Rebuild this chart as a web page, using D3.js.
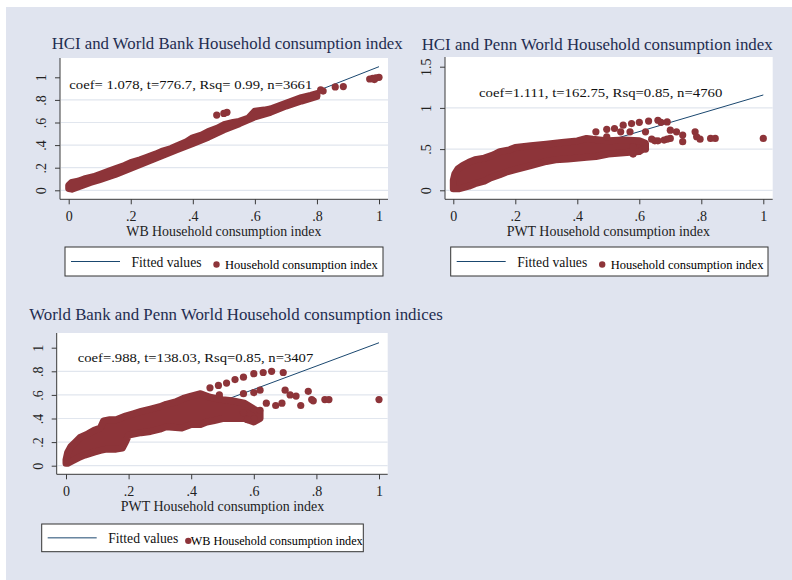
<!DOCTYPE html>
<html>
<head>
<meta charset="utf-8">
<script src="https://cdn.jsdelivr.net/npm/d3@7"></script>
<style>
  body { margin: 0; background: #fff; }
  text { font-family: "Liberation Serif", "Times New Roman", serif; }
</style>
</head>
<body>
<svg id="chart" width="792" height="580"></svg>
<script>
// ---- values ----
var titles = [
    "HCI and World Bank Household consumption index",
    "HCI and Penn World Household consumption index",
    "World Bank and Penn World Household consumption indices"
];
var xTitles = ["WB Household consumption index", "PWT Household consumption index", "PWT Household consumption index"];
var notes = [
    "coef= 1.078, t=776.7, Rsq= 0.99, n=3661",
    "coef=1.111, t=162.75, Rsq=0.85, n=4760",
    "coef=.988, t=138.03, Rsq=0.85, n=3407"
];
var scatterNames = ["Household consumption index", "Household consumption index", "WB Household consumption index"];

var xTicks = [0, 0.2, 0.4, 0.6, 0.8, 1];
var xTickLabels = ["0", ".2", ".4", ".6", ".8", "1"];
var yTicks1 = [0, 0.2, 0.4, 0.6, 0.8, 1];
var yTickLabels1 = ["0", ".2", ".4", ".6", ".8", "1"];
var yTicks2 = [0, 0.5, 1, 1.5];
var yTickLabels2 = ["0", ".5", "1", "1.5"];

// fitted line end points
var fit1 = [[0, 0.016], [1, 1.094]];
var fit2 = [[0, 0.046], [1, 1.157]];
var fit3 = [[0, 0.054], [1, 1.042]];

// dense part of each cloud (marker centres): upper edge left->right, lower edge right->left
var cloud1Upper = [[0, 0.045], [0.01, 0.07], [0.03, 0.08], [0.05, 0.1], [0.08, 0.12], [0.1, 0.14], [0.13, 0.17], [0.15, 0.19], [0.18, 0.22], [0.2, 0.245], [0.23, 0.27], [0.25, 0.29], [0.28, 0.32], [0.3, 0.345], [0.33, 0.37], [0.35, 0.395], [0.38, 0.43], [0.4, 0.465], [0.43, 0.49], [0.45, 0.52], [0.48, 0.55], [0.5, 0.58], [0.53, 0.6], [0.55, 0.61], [0.58, 0.64], [0.6, 0.7], [0.63, 0.71], [0.65, 0.72], [0.7, 0.77], [0.75, 0.82], [0.78, 0.84], [0.8, 0.855]];
var cloud1Lower = [[0.8, 0.83], [0.75, 0.79], [0.7, 0.745], [0.65, 0.69], [0.6, 0.65], [0.55, 0.59], [0.5, 0.535], [0.45, 0.47], [0.4, 0.415], [0.35, 0.36], [0.3, 0.305], [0.25, 0.25], [0.2, 0.195], [0.15, 0.14], [0.1, 0.095], [0.07, 0.07], [0.05, 0.05], [0.03, 0.03], [0.01, 0.01], [0, 0.015]];
var cloud2Upper = [[0, 0.12], [0.005, 0.2], [0.015, 0.26], [0.03, 0.3], [0.05, 0.34], [0.07, 0.37], [0.1, 0.39], [0.13, 0.43], [0.15, 0.47], [0.18, 0.49], [0.2, 0.52], [0.25, 0.54], [0.3, 0.56], [0.35, 0.58], [0.4, 0.6], [0.43, 0.63], [0.45, 0.62], [0.5, 0.6], [0.55, 0.61], [0.6, 0.6], [0.62, 0.57]];
var cloud2Lower = [[0.62, 0.52], [0.6, 0.47], [0.56, 0.46], [0.5, 0.44], [0.46, 0.41], [0.43, 0.4], [0.37, 0.38], [0.33, 0.37], [0.3, 0.35], [0.25, 0.3], [0.2, 0.25], [0.17, 0.22], [0.15, 0.19], [0.12, 0.15], [0.1, 0.11], [0.07, 0.08], [0.05, 0.05], [0.02, 0.02], [0, 0.02]];
var cloud3Upper = [[0, 0.05], [0.005, 0.11], [0.015, 0.16], [0.03, 0.2], [0.045, 0.24], [0.07, 0.27], [0.09, 0.3], [0.11, 0.32], [0.12, 0.38], [0.14, 0.39], [0.16, 0.39], [0.19, 0.42], [0.215, 0.44], [0.24, 0.46], [0.27, 0.48], [0.3, 0.5], [0.32, 0.52], [0.35, 0.54], [0.375, 0.57], [0.4, 0.59], [0.43, 0.61], [0.46, 0.58], [0.5, 0.56], [0.53, 0.55], [0.57, 0.53], [0.6, 0.48], [0.62, 0.45]];
var cloud3Lower = [[0.62, 0.4], [0.6, 0.37], [0.57, 0.4], [0.53, 0.4], [0.5, 0.4], [0.47, 0.38], [0.45, 0.37], [0.43, 0.35], [0.4, 0.35], [0.37, 0.32], [0.32, 0.33], [0.3, 0.31], [0.27, 0.29], [0.24, 0.28], [0.2, 0.26], [0.19, 0.2], [0.18, 0.15], [0.16, 0.14], [0.13, 0.14], [0.11, 0.13], [0.09, 0.115], [0.06, 0.09], [0.045, 0.075], [0.02, 0.04], [0.005, 0.02], [0, 0.02]];

// loose markers outside the dense part
var points1 = [[0.477, 0.666], [0.5, 0.68], [0.51, 0.69], [0.82, 0.878], [0.812, 0.888], [0.859, 0.915], [0.885, 0.918], [0.97, 0.985], [0.98, 0.99], [0.99, 0.995], [1.0, 1.0], [0.985, 0.98]];
var points2 = [[0.46, 0.71], [0.495, 0.74], [0.52, 0.75], [0.548, 0.79], [0.575, 0.81], [0.6, 0.825], [0.63, 0.84], [0.66, 0.85], [0.67, 0.825], [0.69, 0.83], [0.495, 0.65], [0.54, 0.71], [0.57, 0.71], [0.62, 0.71], [0.7, 0.73], [0.72, 0.71], [0.7, 0.63], [0.74, 0.67], [0.74, 0.59], [0.78, 0.71], [0.785, 0.65], [0.796, 0.62], [0.83, 0.63], [0.845, 0.63], [1.0, 0.63], [0.66, 0.6], [0.68, 0.61], [0.58, 0.53], [0.62, 0.5], [0.58, 0.44], [0.65, 0.6], [0.69, 0.62], [0.64, 0.62]];
var points3 = [[0.46, 0.66], [0.487, 0.68], [0.513, 0.7], [0.54, 0.73], [0.567, 0.75], [0.6, 0.78], [0.63, 0.79], [0.657, 0.8], [0.694, 0.79], [0.49, 0.6], [0.567, 0.61], [0.6, 0.62], [0.62, 0.64], [0.7, 0.64], [0.716, 0.6], [0.735, 0.59], [0.69, 0.53], [0.75, 0.51], [0.774, 0.63], [0.785, 0.56], [0.79, 0.55], [0.827, 0.56], [0.84, 0.56], [1.0, 0.56], [0.64, 0.53], [0.6, 0.4], [0.58, 0.39], [0.567, 0.45], [0.67, 0.51], [0.62, 0.47]];

// ---- layout ----
var navy = "#1a476f", maroon = "#8d3439", gridCol = "#e1e6ee", bg = "#e0e4ef";
var panels = [
    { plot: [60, 58, 388, 199.3], xr: [68.7, 379], ymax: 1, yr: [190.3, 77.3],
      yTicks: yTicks1, yLabels: yTickLabels1, fit: fit1, up: cloud1Upper, lo: cloud1Lower, pts: points1,
      title: [51.7, 49, 351], note: [69.3, 89.3, 243], xt: 195, legend: [65, 247, 318, 29, 152.7] },
    { plot: [445, 57, 772.7, 199.3], xr: [453.3, 763.3], ymax: 1.5, yr: [190.3, 66.7],
      yTicks: yTicks2, yLabels: yTickLabels2, fit: fit2, up: cloud2Upper, lo: cloud2Lower, pts: points2,
      title: [421.7, 50, 351], note: [479, 96.7, 243.3], xt: 203.3, legend: [450.7, 247, 317.3, 29, 152.7] },
    { plot: [56.7, 333, 387.7, 474.3], xr: [66, 379], ymax: 1, yr: [465.7, 347.7],
      yTicks: yTicks1, yLabels: yTickLabels1, fit: fit3, up: cloud3Upper, lo: cloud3Lower, pts: points3,
      title: [29.3, 320, 413.4], note: [77.7, 361.7, 235.6], xt: 203.6, legend: [41.7, 524, 321.6, 27.7, 172] }
];

var svg = d3.select("#chart");
svg.append("rect").attr("x", 0).attr("y", 0).attr("width", 792).attr("height", 580).attr("fill", "#fff");
svg.append("rect").attr("x", 6).attr("y", 7).attr("width", 786).attr("height", 573).attr("fill", bg);

panels.forEach(function(p, i) {
    var g = svg.append("g");
    var x = d3.scaleLinear().domain([0, 1]).range(p.xr);
    var y = d3.scaleLinear().domain([0, p.ymax]).range(p.yr);
    var left = p.plot[0], top = p.plot[1], right = p.plot[2], bottom = p.plot[3];
    var line = d3.line().x(function(d) { return x(d[0]); }).y(function(d) { return y(d[1]); });

    g.append("rect").attr("x", left).attr("y", top).attr("width", right - left).attr("height", bottom - top).attr("fill", "#fff");

    // grid lines (none at the top tick)
    g.selectAll(".grid").data(p.yTicks.slice(0, -1)).enter().append("line")
        .attr("x1", left + 1).attr("x2", right)
        .attr("y1", function(d) { return y(d); }).attr("y2", function(d) { return y(d); })
        .attr("stroke", gridCol).attr("stroke-width", 1.2);

    var clip = "clip" + i;
    g.append("clipPath").attr("id", clip).append("rect")
        .attr("x", left).attr("y", top).attr("width", right - left).attr("height", bottom - top);
    var inner = g.append("g").attr("clip-path", "url(#" + clip + ")");

    // fitted line under the markers
    inner.append("path").datum(p.fit).attr("d", line)
        .attr("stroke", navy).attr("stroke-width", 1).attr("fill", "none");

    // dense cloud
    inner.append("path").datum(p.up.concat(p.lo))
        .attr("d", line.curve(d3.curveLinearClosed))
        .attr("fill", maroon).attr("stroke", maroon).attr("stroke-width", 7).attr("stroke-linejoin", "round");

    inner.selectAll(".pt").data(p.pts).enter().append("circle")
        .attr("cx", function(d) { return x(d[0]); }).attr("cy", function(d) { return y(d[1]); })
        .attr("r", 3.6).attr("fill", maroon);

    // axes
    var xAxis = d3.axisBottom(x).tickValues(xTicks).tickSize(5).tickFormat(function(d, j) { return xTickLabels[j]; });
    var gx = g.append("g").attr("transform", "translate(0," + bottom + ")").call(xAxis);
    gx.select(".domain").attr("d", "M" + left + ",0H" + right).attr("stroke", "#3a3a3a");
    gx.selectAll(".tick line").attr("stroke", "#3a3a3a");
    gx.selectAll(".tick text").attr("dy", null).attr("y", 21.8)
        .attr("font-size", 14).attr("fill", "#222").style("font-family", "Liberation Serif");

    var yAxis = d3.axisLeft(y).tickValues(p.yTicks).tickSize(5).tickFormat(function(d, j) { return p.yLabels[j]; });
    var gy = g.append("g").attr("transform", "translate(" + left + ",0)").call(yAxis);
    gy.select(".domain").attr("d", "M0," + top + "V" + bottom).attr("stroke", "#3a3a3a");
    gy.selectAll(".tick line").attr("stroke", "#3a3a3a");
    gy.selectAll(".tick text").attr("x", null).attr("dy", null)
        .attr("transform", "translate(-14,0) rotate(-90)")
        .attr("text-anchor", "middle").attr("font-size", 14).attr("fill", "#222").style("font-family", "Liberation Serif");

    // texts
    g.append("text").attr("x", p.title[0]).attr("y", p.title[1]).attr("font-size", 16).attr("fill", "#1f2d50")
        .attr("textLength", p.title[2]).attr("lengthAdjust", "spacingAndGlyphs").text(titles[i]);
    g.append("text").attr("x", p.note[0]).attr("y", p.note[1]).attr("font-size", 13.5).attr("fill", "#111")
        .attr("textLength", p.note[2]).attr("lengthAdjust", "spacingAndGlyphs").text(notes[i]);
    g.append("text").attr("x", (p.xr[0] + p.xr[1]) / 2 - p.xt / 2).attr("y", bottom + 37)
        .attr("font-size", 14.5).attr("fill", "#222")
        .attr("textLength", p.xt).attr("lengthAdjust", "spacingAndGlyphs").text(xTitles[i]);

    // legend
    var L = p.legend, lx = L[0], ly = L[1];
    var lg = g.append("g");
    lg.append("rect").attr("x", lx).attr("y", ly).attr("width", L[2]).attr("height", L[3])
        .attr("fill", "#fff").attr("stroke", "#333").attr("stroke-width", 1);
    var midY = ly + L[3] / 2;
    lg.append("line").attr("x1", lx + 6).attr("x2", lx + 55).attr("y1", midY).attr("y2", midY)
        .attr("stroke", navy).attr("stroke-width", 1);
    lg.append("text").attr("x", lx + 66.5).attr("y", midY + 5).attr("font-size", 14).attr("fill", "#111")
        .attr("textLength", 70).attr("lengthAdjust", "spacingAndGlyphs").text("Fitted values");
    var mx = i === 2 ? lx + 146.6 : lx + 151.5;
    lg.append("circle").attr("cx", mx).attr("cy", midY + 3).attr("r", 3.2).attr("fill", maroon);
    lg.append("text").attr("x", mx + (i === 2 ? 2.4 : 8.5)).attr("y", midY + 7).attr("font-size", 12.5).attr("fill", "#000")
        .attr("textLength", L[4]).attr("lengthAdjust", "spacingAndGlyphs").text(scatterNames[i]);
});
</script>
</body>
</html>
